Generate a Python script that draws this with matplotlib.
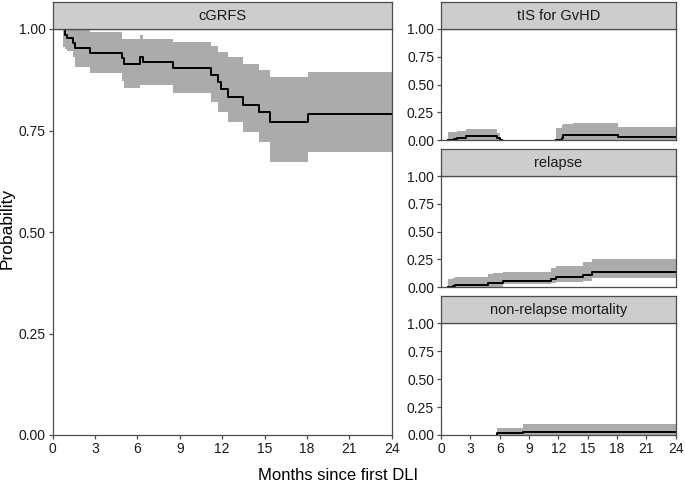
import matplotlib
matplotlib.use('Agg')
import matplotlib.pyplot as plt
from matplotlib.ticker import FormatStrFormatter

plt.rcParams['font.family'] = ['Liberation Sans', 'DejaVu Sans']

# cGRFS
grfs_t = [0.75, 0.87, 1.04, 1.46, 1.58, 2.64, 4.88, 5.05, 6.18, 6.37, 8.54,
          11.24, 11.73, 11.9, 12.44, 13.5, 14.63, 15.39, 18.1, 24]
grfs_est = [1.0, 0.985, 0.977, 0.965, 0.952, 0.940, 0.928, 0.913, 0.932, 0.918, 0.903,
            0.887, 0.870, 0.851, 0.833, 0.813, 0.795, 0.772, 0.790, 0.790]
grfs_hi = [1.0, 1.0, 1.0, 1.0, 1.0, 0.993, 0.975, 0.975, 0.985, 0.975, 0.969,
           0.959, 0.944, 0.944, 0.932, 0.913, 0.899, 0.883, 0.893, 0.893]
grfs_lo = [0.955, 0.950, 0.945, 0.930, 0.907, 0.891, 0.872, 0.854, 0.862, 0.862, 0.842,
           0.821, 0.796, 0.796, 0.772, 0.747, 0.722, 0.673, 0.698, 0.698]

# tIS for GvHD (two pieces)
tis1_t = [0.75, 1.33, 1.6, 2.6, 5.7, 6.03, 6.2]
tis1_est = [0.0, 0.006, 0.021, 0.036, 0.020, 0.0, 0.0]
tis1_hi = [0.069, 0.075, 0.084, 0.099, 0.065, 0.0, 0.0]
tis2_t = [11.76, 12.34, 12.5, 13.53, 18.1, 24]
tis2_est = [0.0, 0.021, 0.045, 0.045, 0.030, 0.030]
tis2_hi = [0.111, 0.135, 0.140, 0.153, 0.114, 0.114]

# relapse
rel_t = [0.75, 1.2, 1.43, 4.84, 5.36, 6.37, 11.2, 11.8, 14.56, 15.4, 24]
rel_est = [0.0, 0.012, 0.021, 0.041, 0.041, 0.059, 0.074, 0.092, 0.110, 0.134, 0.134]
rel_hi = [0.072, 0.085, 0.095, 0.116, 0.130, 0.140, 0.170, 0.190, 0.224, 0.254, 0.254]
rel_lo = [0.0, 0.0, 0.0, 0.005, 0.005, 0.030, 0.040, 0.047, 0.060, 0.080, 0.080]

# non-relapse mortality
nrm_t = [5.76, 5.76, 8.42, 24]
nrm_est = [0.0, 0.015, 0.030, 0.030]
nrm_hi = [0.0, 0.066, 0.098, 0.098]

x_ticks = [0, 3, 6, 9, 12, 15, 18, 21, 24]
y_ticks = [0, 0.25, 0.5, 0.75, 1.0]

W, H = 685, 482
fig = plt.figure(figsize=(W / 100, H / 100), dpi=100)

band_col = '#ababab'
strip_col = '#cdcdcd'
edge_col = '#4d4d4d'


def make_panel(x0, x1, ytop, ybot, title):
    # pixel coords (top-origin) -> figure fractions
    ax = fig.add_axes([x0 / W, (H - ybot) / H, (x1 - x0) / W, (ybot - ytop) / H])
    st = fig.add_axes([x0 / W, (H - ytop) / H, (x1 - x0) / W, 27 / H])
    st.set_facecolor(strip_col)
    st.set_xticks([])
    st.set_yticks([])
    for s in st.spines.values():
        s.set_color(edge_col)
        s.set_linewidth(0.9)
    st.text(0.5, 0.5, title, ha='center', va='center', fontsize=10.5,
            color='#1a1a1a', transform=st.transAxes)
    ax.set_xlim(0, 24)
    ax.set_ylim(0, 1)
    ax.set_xticks(x_ticks)
    ax.set_yticks(y_ticks)
    ax.yaxis.set_major_formatter(FormatStrFormatter('%.2f'))
    ax.tick_params(length=3, width=0.9, color=edge_col, labelsize=10,
                   labelcolor='#1a1a1a', pad=2)
    for s in ax.spines.values():
        s.set_color(edge_col)
        s.set_linewidth(0.9)
    return ax


def draw(ax, t, est, lo, hi):
    ax.fill_between(t, lo, hi, step='post', color=band_col, lw=0)
    ax.step(t, est, where='post', color='black', lw=1.4)


ax1 = make_panel(52.7, 391.7, 29, 435, 'cGRFS')
draw(ax1, grfs_t, grfs_est, grfs_lo, grfs_hi)

ax2 = make_panel(441, 675.7, 29, 140, 'tIS for GvHD')
draw(ax2, tis1_t, tis1_est, [0] * len(tis1_t), tis1_hi)
draw(ax2, tis2_t, tis2_est, [0] * len(tis2_t), tis2_hi)
ax2.tick_params(labelbottom=False, bottom=False)

ax3 = make_panel(441, 675.7, 176, 287.3, 'relapse')
draw(ax3, rel_t, rel_est, rel_lo, rel_hi)
ax3.tick_params(labelbottom=False, bottom=False)

ax4 = make_panel(441, 675.7, 323.3, 435, 'non-relapse mortality')
draw(ax4, nrm_t, nrm_est, [0] * len(nrm_t), nrm_hi)

fig.text(338 / W, 1 - 480 / H, 'Months since first DLI', ha='center', va='baseline',
         fontsize=12, color='black')
fig.text(7 / W, 1 - 228 / H, 'Probability', ha='center', va='center',
         rotation=90, fontsize=12.5, color='black')

fig.savefig('out.png', dpi=100)
